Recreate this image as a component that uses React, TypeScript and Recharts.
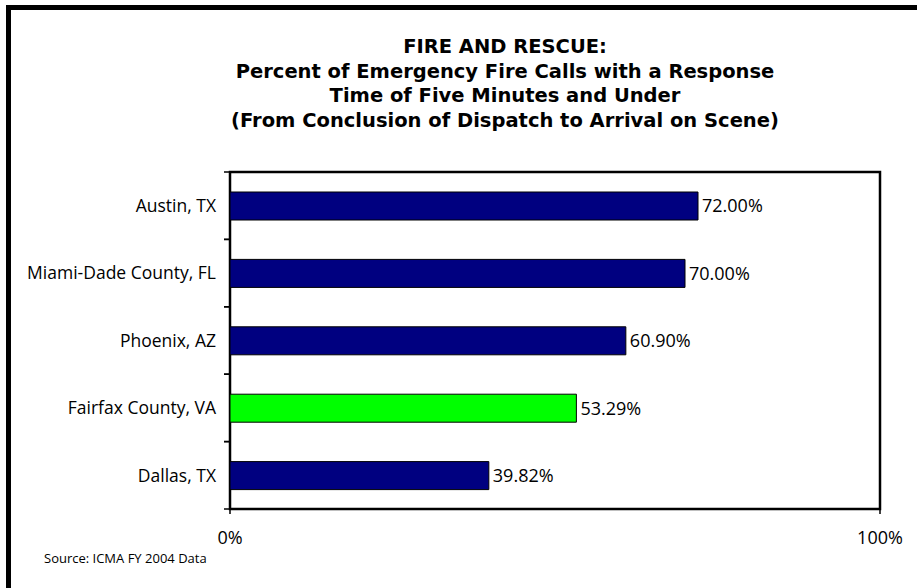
import React from 'react'
import {
  BarChart,
  Bar,
  XAxis,
  YAxis,
  Cell,
  LabelList,
  ReferenceArea
} from 'recharts'

const cities = ['Austin, TX', 'Miami-Dade County, FL', 'Phoenix, AZ', 'Fairfax County, VA', 'Dallas, TX']
const percents = [72.0, 70.0, 60.9, 53.29, 39.82]
const barColors = ['#000080', '#000080', '#000080', '#00ff00', '#000080']
const xTicks = [0, 100]

const titleLines = [
  'FIRE AND RESCUE:',
  'Percent of Emergency Fire Calls with a Response',
  'Time of Five Minutes and Under',
  '(From Conclusion of Dispatch to Arrival on Scene)'
]

const data = cities.map((city, i) => ({ city, pct: percents[i], color: barColors[i] }))

const font = '"Open Sans", Lato, sans-serif'
const titleFont = '"DejaVu Sans", "Open Sans", sans-serif'
const TICK_LEN = 6
const TICK_GAP = 8

// category label plus the short ticks that sit on the band edges
const CityTick = (props: any) => {
  const { x, y, payload } = props
  const half = payload.offset ?? 0
  const x0 = x + TICK_GAP
  return (
    <g>
      <line x1={x0} x2={x0 + TICK_LEN} y1={y - half} y2={y - half} stroke="#000" strokeWidth={1.5} />
      <line x1={x0} x2={x0 + TICK_LEN} y1={y + half} y2={y + half} stroke="#000" strokeWidth={1.5} />
      <text x={x} y={y} dy="0.355em" textAnchor="end" fill="#000" fontSize={17.5} fontFamily={font}>
        {payload.value}
      </text>
    </g>
  )
}

export default function App() {
  return (
    <div style={{ position: 'absolute', left: 0, top: 0, width: 917, height: 588, background: '#fff', fontFamily: font, overflow: 'hidden' }}>
      <div
        style={{
          position: 'absolute',
          left: 6,
          top: 5,
          width: 960,
          height: 600,
          borderLeft: '5px solid #000',
          borderTop: '5px solid #000'
        }}
      />
      <div
        style={{
          position: 'absolute',
          left: 0,
          width: 1010,
          top: 35,
          textAlign: 'center',
          fontFamily: titleFont,
          fontWeight: 'bold',
          fontSize: 19.5,
          lineHeight: '24.5px',
          color: '#000'
        }}
      >
        {titleLines.map((t) => (
          <div key={t}>{t}</div>
        ))}
      </div>

      <BarChart
        width={917}
        height={588}
        data={data}
        layout="vertical"
        margin={{ top: 172, right: 37, bottom: 39, left: 0 }}
        style={{ position: 'absolute', left: 0, top: 0 }}
      >
        <YAxis
          type="category"
          dataKey="city"
          width={230}
          axisLine={false}
          tickLine={false}
          tickSize={TICK_LEN}
          tickMargin={TICK_GAP}
          tick={<CityTick />}
        />
        <XAxis
          type="number"
          domain={[0, 100]}
          ticks={xTicks}
          height={40}
          tickFormatter={(v) => v + '%'}
          axisLine={false}
          tickSize={5}
          tickMargin={17}
          tickLine={{ stroke: '#000', strokeWidth: 1.5 }}
          tick={{ fill: '#000', fontSize: 18, fontFamily: font }}
        />
        <ReferenceArea
          x1={0}
          x2={100}
          fill="none"
          fillOpacity={0}
          stroke="#000"
          strokeWidth={2.5}
          ifOverflow="visible"
        />
        <Bar dataKey="pct" barSize={28} stroke="#000" strokeWidth={1} isAnimationActive={false}>
          {data.map((d) => (
            <Cell key={d.city} fill={d.color} />
          ))}
          <LabelList
            dataKey="pct"
            position="right"
            offset={4}
            formatter={(v: number) => v.toFixed(2) + '%'}
            style={{ fill: '#000', fontSize: 18, fontFamily: font }}
          />
        </Bar>
      </BarChart>

      <div style={{ position: 'absolute', left: 44, top: 549, fontSize: 13, color: '#000' }}>
        Source: ICMA FY 2004 Data
      </div>
    </div>
  )
}
